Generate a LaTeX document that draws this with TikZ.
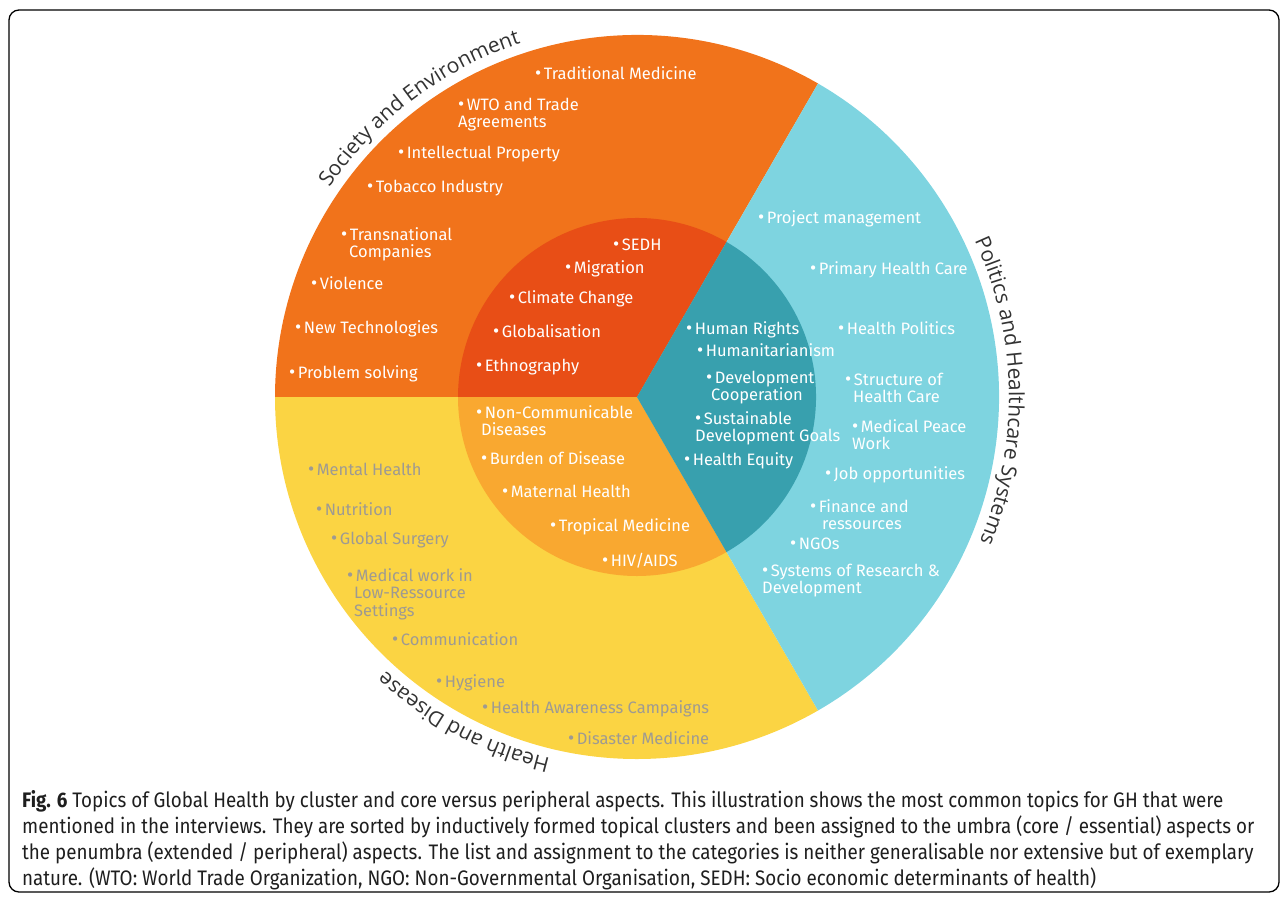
\documentclass[tikz,border=0pt]{standalone}
\usepackage{fontspec}
\setmainfont{Fira Sans}
\newfontfamily\itemfont{Fira Sans}
\newfontfamily\curvefont{Open Sans}
\newfontfamily\capfont[FakeStretch=0.895]{Fira Sans}
\usetikzlibrary{decorations.text}
\definecolor{orOut}{RGB}{241,115,27}
\definecolor{orIn}{RGB}{232,78,22}
\definecolor{yeOut}{RGB}{251,212,67}
\definecolor{yeIn}{RGB}{249,168,48}
\definecolor{blOut}{RGB}{126,212,224}
\definecolor{blIn}{RGB}{56,160,174}
\definecolor{txtGrey}{RGB}{158,154,146}
\definecolor{labCol}{RGB}{50,50,50}
\definecolor{capCol}{RGB}{30,30,30}
\newcommand\bul{{\fontsize{19}{17.5}\selectfont\textbullet}\kern2.5pt}
\tikzset{
  itm/.style={anchor=base west, inner sep=0pt, align=left,
    font=\itemfont\fontsize{16.5}{17.5}\selectfont, text=white},
  itmg/.style={itm, text=txtGrey},
  capline/.style={anchor=base west, inner sep=0pt,
    font=\capfont\fontsize{21}{24}\selectfont, text=capCol},
  frame/.style={draw=black, line width=1.3pt, rounded corners=10pt}
}
\begin{document}
\begin{tikzpicture}[x=1pt,y=-1pt]
\useasboundingbox (0,0) rectangle (1287,900);
\draw[frame] (9,10) rectangle (1279,892);

\begin{scope}[y=1pt]
  \coordinate (c) at (637,-397);
  % outer sectors
  \fill[orOut] (c) -- ++(60:362) arc[start angle=60, end angle=180, radius=362] -- cycle;
  \fill[yeOut] (c) -- ++(180:362) arc[start angle=180, end angle=300, radius=362] -- cycle;
  \fill[blOut] (c) -- ++(-60:362) arc[start angle=-60, end angle=60, radius=362] -- cycle;
  % inner sectors
  \fill[orIn] (c) -- ++(60:179) arc[start angle=60, end angle=180, radius=179] -- cycle;
  \fill[yeIn] (c) -- ++(180:179) arc[start angle=180, end angle=300, radius=179] -- cycle;
  \fill[blIn] (c) -- ++(-60:179) arc[start angle=-60, end angle=60, radius=179] -- cycle;
  % curved cluster labels
  \path[decorate, decoration={text along path, text align=center,
      text={|\curvefont\fontsize{21}{24}\selectfont\color{labCol}|Society and Environment}}]
    (c) ++(167:372) arc[start angle=167, end angle=87, radius=372];
  \path[decorate, decoration={text along path, text align=center,
      text={|\curvefont\fontsize{21}{24}\selectfont\color{labCol}|Politics and Healthcare Systems}}]
    (c) ++(41:372) arc[start angle=41, end angle=-39, radius=372];
  \path[decorate, decoration={text along path, text align=center,
      text={|\curvefont\fontsize{21}{24}\selectfont\color{labCol}|Health and Disease}}]
    (c) ++(282:372) arc[start angle=282, end angle=202, radius=372];
\end{scope}

% Society and Environment - outer
\node[itm] (tm) at (535,79) {\bul Traditional Medicine};
\node[itm] (wto) at (458,127.5) {\bul WTO and Trade\\Agreements};
\node[itm] (ip) at (398,158) {\bul Intellectual Property};
\node[itm] (tob) at (367,192) {\bul Tobacco Industry};
\node[itm] (tc) at (341,257.5) {\bul Transnational\\\hspace*{8pt}Companies};
\node[itm] (vio) at (311,289) {\bul Violence};
\node[itm] (nt) at (295,333) {\bul New Technologies};
\node[itm] (ps) at (289,378) {\bul Problem solving};
% Society and Environment - core
\node[itm] (sedh) at (613,250) {\bul SEDH};
\node[itm] (mig) at (565,273) {\bul Migration};
\node[itm] (cc) at (509,303) {\bul Climate Change};
\node[itm] (glob) at (493,337) {\bul Globalisation};
\node[itm] (eth) at (476,371) {\bul Ethnography};
% Politics - core
\node[itm] (hr) at (686,334) {\bul Human Rights};
\node[itm] (hum) at (697,356) {\bul Humanitarianism};
\node[itm] (dc) at (706,400.5) {\bul Development\\\hspace*{5pt}Cooperation};
\node[itm] (sdg) at (695,441.5) {\bul Sustainable\\Development Goals};
\node[itm] (he) at (684,465) {\bul Health Equity};
% Politics - outer
\node[itm] (pm) at (758,223) {\bul Project management};
\node[itm] (phc) at (810,274) {\bul Primary Health Care};
\node[itm] (hp) at (838,334) {\bul Health Politics};
\node[itm] (shc) at (845,402.5) {\bul Structure of\\\hspace*{8pt}Health Care};
\node[itm] (mpw) at (852,449.5) {\bul Medical Peace\\Work};
\node[itm] (job) at (825,479) {\bul Job opportunities};
\node[itm] (fin) at (810,529.5) {\bul Finance and\\\hspace*{12pt}ressources};
\node[itm] (ngo) at (790,549) {\bul NGOs};
\node[itm] (srd) at (762,593.5) {\bul Systems of Research \&\\Development};
% Health and Disease - core
\node[itm] (ncd) at (476,435.5) {\bul Non-Communicable\\\hspace*{5pt}Diseases};
\node[itm] (bod) at (481,464) {\bul Burden of Disease};
\node[itm] (mh) at (502,497) {\bul Maternal Health};
\node[itm] (trm) at (550,531) {\bul Tropical Medicine};
\node[itm] (hiv) at (602,566) {\bul HIV/AIDS};
% Health and Disease - outer
\node[itmg] (menh) at (308,475) {\bul Mental Health};
\node[itmg] (nut) at (316,515) {\bul Nutrition};
\node[itmg] (gs) at (331,544) {\bul Global Surgery};
\node[itmg] (mw) at (347,616) {\bul Medical work in\\\hspace*{7pt}Low-Ressource\\\hspace*{7pt}Settings};
\node[itmg] (com) at (392,645) {\bul Communication};
\node[itmg] (hyg) at (436,687) {\bul Hygiene};
\node[itmg] (hac) at (482,713) {\bul Health Awareness Campaigns};
\node[itmg] (dm) at (568,744) {\bul Disaster Medicine};

% caption
\node[capline] (cap1) at (22,807) {\textbf{Fig. 6} Topics of Global Health by cluster and core versus peripheral aspects. This illustration shows the most common topics for GH that were};
\node[capline] (cap2) at (22,833) {mentioned in the interviews. They are sorted by inductively formed topical clusters and been assigned to the umbra (core / essential) aspects or};
\node[capline] (cap3) at (22,859) {the penumbra (extended / peripheral) aspects. The list and assignment to the categories is neither generalisable nor extensive but of exemplary};
\node[capline] (cap4) at (22,885) {nature. (WTO: World Trade Organization, NGO: Non-Governmental Organisation, SEDH: Socio economic determinants of health)};
\end{tikzpicture}
\end{document}
